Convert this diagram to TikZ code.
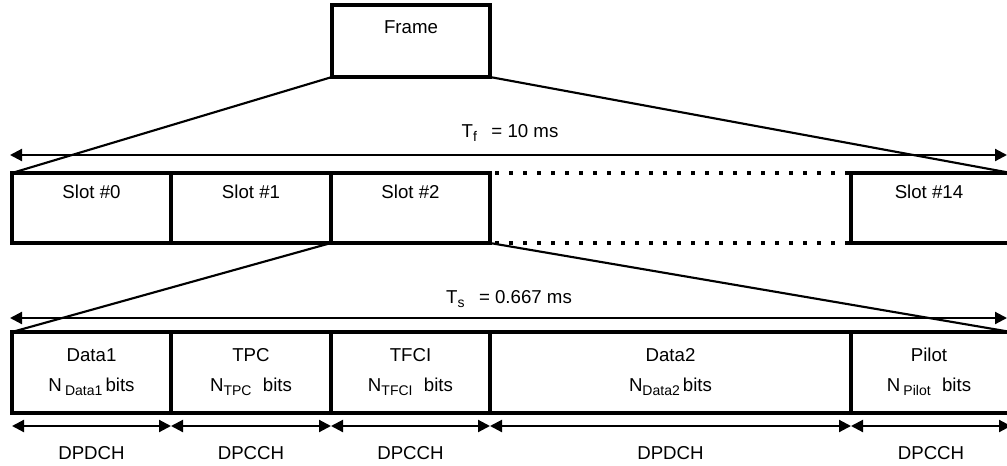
\documentclass[tikz,border=0pt]{standalone}
\usepackage{fontspec}
\setmainfont{Liberation Sans}
\usetikzlibrary{arrows.meta,calc}
\newcommand\lowsub[1]{\raisebox{-3pt}{\fontsize{10.5}{12}\selectfont #1}}
\begin{document}
\begin{tikzpicture}[x=0.75pt,y=-0.75pt,
  every node/.style={font=\fontsize{14}{16}\selectfont},
  box/.style={draw,line width=2.4pt,inner sep=0pt,outer sep=0pt,anchor=north west,minimum height=#1*0.75pt},
  lbl/.style={inner sep=0pt,anchor=center},
  fan/.style={line width=1.6pt},
  span/.style={line width=1.6pt,{Triangle[length=9pt,width=9pt]}-{Triangle[length=9pt,width=9pt]}},
  gap/.style={line width=2.6pt,dash pattern=on 3pt off 7.5pt}
]
\useasboundingbox (0,0) rectangle (1007,465);
% frame
\node[box=72,minimum width=158*0.75pt] (frame) at (332,5) {};
\node[lbl] (tframe) at ($(frame.north)+(0,22)$) {Frame};
% slots
\node[box=70,minimum width=159*0.75pt] (s0) at (12,173) {};
\node[box=70,minimum width=160*0.75pt] (s1) at (171,173) {};
\node[box=70,minimum width=159*0.75pt] (s2) at (331,173) {};
\node[box=70,minimum width=160*0.75pt] (s14) at (851,173) {};
\node[lbl] (ts0) at ($(s0.north)+(0,19)$) {Slot \#0};
\node[lbl] (ts1) at ($(s1.north)+(0,19)$) {Slot \#1};
\node[lbl] (ts2) at ($(s2.north)+(0,19)$) {Slot \#2};
\node[lbl] (ts14) at ($(s14.north)+(-2,19)$) {Slot \#14};
\draw[gap] ([xshift=4pt]s2.north east) -- (s14.north west);
\draw[gap] ([xshift=4pt]s2.south east) -- (s14.south west);
% fields
\node[box=81,minimum width=159*0.75pt] (d1) at (12,332) {};
\node[box=81,minimum width=160*0.75pt] (tpc) at (171,332) {};
\node[box=81,minimum width=159*0.75pt] (tfci) at (331,332) {};
\node[box=81,minimum width=361*0.75pt] (d2) at (490,332) {};
\node[box=81,minimum width=160*0.75pt] (pil) at (851,332) {};
\node[lbl] (td1) at ($(d1.north)+(0,23)$) {Data1};
\node[lbl] (nd1) at ($(d1.north)+(0,55)$) {N\,\lowsub{Data1}\,bits};
\node[lbl] (ttpc) at ($(tpc.north)+(0,23)$) {TPC};
\node[lbl] (ntpc) at ($(tpc.north)+(0,55)$) {N\lowsub{TPC}\,\, bits};
\node[lbl] (ttfci) at ($(tfci.north)+(0,23)$) {TFCI};
\node[lbl] (ntfci) at ($(tfci.north)+(0,55)$) {N\lowsub{TFCI}\,\, bits};
\node[lbl] (td2) at ($(d2.north)+(0,23)$) {Data2};
\node[lbl] (nd2) at ($(d2.north)+(0,55)$) {N\lowsub{Data2}\,bits};
\node[lbl] (tpil) at ($(pil.north)+(-2,23)$) {Pilot};
\node[lbl] (npil) at ($(pil.north)+(-2,55)$) {N\,\lowsub{Pilot}\,\, bits};
% fan lines
\draw[fan] (frame.south west) -- (s0.north west);
\draw[fan] (frame.south east) -- (s14.north east);
\draw[fan] (s2.south west) -- (d1.north west);
\draw[fan] (s2.south east) -- (pil.north east);
% durations
\coordinate (tfl) at (10,155);
\coordinate (tfr) at (1007,155);
\draw[span] (tfl) -- (tfr);
\node[lbl] (tf) at (510,133) {T\lowsub{f}\,\,\, = 10 ms};
\coordinate (tsl) at (10,318);
\coordinate (tsr) at (1007,318);
\draw[span] (tsl) -- (tsr);
\node[lbl] (tsn) at (509,299) {T\lowsub{s}\,\,\, = 0.667 ms};
% channel spans
\foreach \b/\n in {d1/DPDCH,tpc/DPCCH,tfci/DPCCH,d2/DPDCH,pil/DPCCH}{
  \draw[span] ([yshift=-9.75pt]\b.south west) -- ([yshift=-9.75pt]\b.south east);
  \node[lbl] (c\b) at ($(\b.south)+(0,40)$) {\n};
}
\end{tikzpicture}
\end{document}
